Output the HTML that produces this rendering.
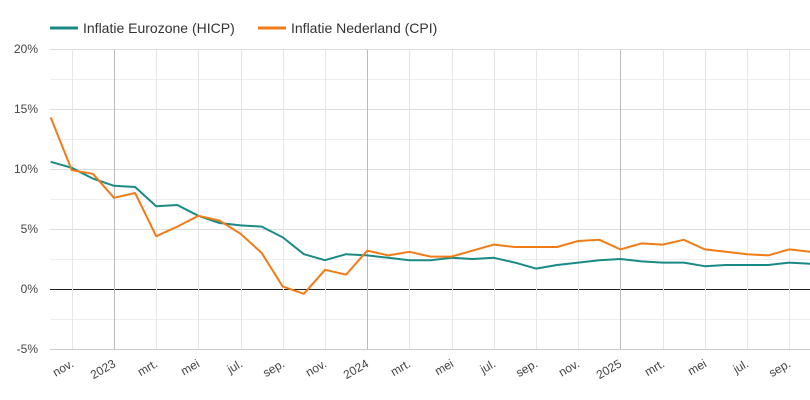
<!DOCTYPE html>
<html><head><meta charset="utf-8"><style>
html,body{margin:0;padding:0;background:#fff;}
svg{display:block;font-family:"Liberation Sans",Arial,sans-serif;}
</style></head><body>
<svg id="c" width="810" height="400" viewBox="0 0 810 400"></svg>
<script>
const s=document.getElementById('c');
let h='';
const x0=50.7,dx=21.1,y=v=>289-12*v;
for(let v=-5;v<=20;v+=2.5){
 const major=v%5===0;
 const yy=y(v)+0.5;
 h+=`<line x1="50" x2="810" y1="${yy}" y2="${yy}" stroke="${v===0?'#222':(v===-5?'#ccc':(major?'#ddd':'#eee'))}" stroke-width="1"/>`;
 if(major) h+=`<text x="38" y="${y(v)+4}" font-size="12" fill="#444" text-anchor="end">${v}%</text>`;
}
const labs=['nov.','2023','mrt.','mei','jul.','sep.','nov.','2024','mrt.','mei','jul.','sep.','nov.','2025','mrt.','mei','jul.','sep.'];
for(let i=0;i<labs.length;i++){
 const xx=Math.round(x0+dx*(1+2*i))+0.5;
 const yr=/^20/.test(labs[i]);
 h+=`<line x1="${xx}" x2="${xx}" y1="50" y2="349" stroke="${yr?'#bbb':'#e6e6e6'}" stroke-width="1"/>`;
 h+=`<text transform="translate(${xx+2},366) rotate(-30)" font-size="12" fill="#444" text-anchor="end">${labs[i]}</text>`;
}
const ez=[10.6,10.1,9.2,8.6,8.5,6.9,7.0,6.1,5.5,5.3,5.2,4.3,2.9,2.4,2.9,2.8,2.6,2.4,2.4,2.6,2.5,2.6,2.2,1.7,2.0,2.2,2.4,2.5,2.3,2.2,2.2,1.9,2.0,2.0,2.0,2.2,2.1];
const nl=[14.3,9.9,9.6,7.6,8.0,4.4,5.2,6.1,5.7,4.6,3.0,0.2,-0.4,1.6,1.2,3.2,2.8,3.1,2.7,2.7,3.2,3.7,3.5,3.5,3.5,4.0,4.1,3.3,3.8,3.7,4.1,3.3,3.1,2.9,2.8,3.3,3.1];
const pl=(d,c)=>`<polyline fill="none" stroke="${c}" stroke-width="2" stroke-linejoin="round" points="${d.map((v,i)=>(x0+dx*i).toFixed(1)+','+y(v).toFixed(1)).join(' ')}"/>`;
h+=pl(ez,'#1a8a87')+pl(nl,'#f07b17');
h+=`<line x1="50" x2="78" y1="28" y2="28" stroke="#1a8a87" stroke-width="3"/>`;
h+=`<text x="83" y="33" font-size="14" fill="#333">Inflatie Eurozone (HICP)</text>`;
h+=`<line x1="258" x2="286" y1="28" y2="28" stroke="#f07b17" stroke-width="3"/>`;
h+=`<text x="291" y="33" font-size="14" fill="#333">Inflatie Nederland (CPI)</text>`;
s.innerHTML=h;
</script>
</body></html>
